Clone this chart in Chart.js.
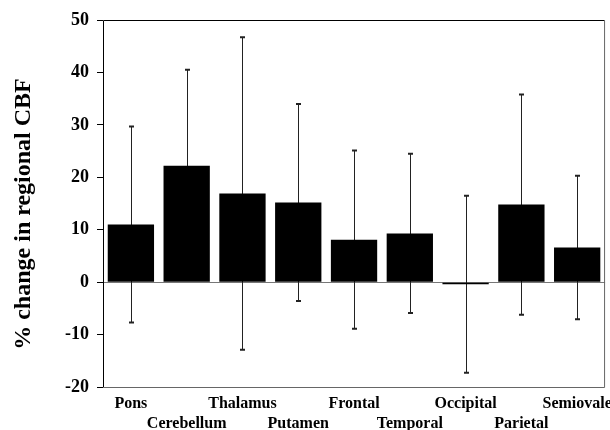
<!DOCTYPE html>
<html>
<head>
<meta charset="utf-8">
<script src="https://cdn.jsdelivr.net/npm/chart.js@4"></script>
<style>
  html, body { margin: 0; padding: 0; background: #fff; }
  #wrap { width: 610px; height: 430px; }
</style>
</head>
<body>
<div id="wrap"><canvas id="myBarChart"></canvas></div>
<script>
// regions, mean % change and SD
const regions = ['Pons', 'Cerebellum', 'Thalamus', 'Putamen', 'Frontal', 'Temporal', 'Occipital', 'Parietal', 'Semiovale'];
const means = [11.0, 22.2, 16.9, 15.2, 8.1, 9.3, -0.4, 14.8, 6.6];
const sds = [18.7, 18.3, 29.8, 18.8, 17.0, 15.2, 16.9, 21.0, 13.7];
const yTicks = [-20, -10, 0, 10, 20, 30, 40, 50];

const serif = "'Liberation Serif', 'Times New Roman', serif";

// whiskers go under the bars, box + title on top
const errorBars = {
  id: 'errorBars',
  beforeDatasetsDraw(chart) {
    const ctx = chart.ctx;
    const y = chart.scales.y;
    const meta = chart.getDatasetMeta(0);
    ctx.save();
    ctx.strokeStyle = '#222';
    meta.data.forEach((bar, i) => {
      const x = Math.round(bar.x) + 0.5;
      const hi = y.getPixelForValue(means[i] + sds[i]);
      const lo = y.getPixelForValue(means[i] - sds[i]);
      ctx.lineWidth = 1;
      ctx.beginPath();
      ctx.moveTo(x, hi);
      ctx.lineTo(x, lo);
      ctx.stroke();
      ctx.lineWidth = 2;
      ctx.beginPath();
      ctx.moveTo(x - 2.5, hi); ctx.lineTo(x + 2.5, hi);
      ctx.moveTo(x - 2.5, lo); ctx.lineTo(x + 2.5, lo);
      ctx.stroke();
    });
    ctx.restore();
  },
  afterDatasetsDraw(chart) {
    const ctx = chart.ctx;
    const a = chart.chartArea;
    ctx.save();
    ctx.lineWidth = 1;
    ctx.strokeStyle = '#000';
    ctx.beginPath();
    ctx.moveTo(a.left + 0.5, a.bottom + 0.5);
    ctx.lineTo(a.left + 0.5, a.top + 0.5);
    ctx.lineTo(a.right - 0.5, a.top + 0.5);
    ctx.stroke();
    ctx.strokeStyle = '#666';
    ctx.beginPath();
    ctx.moveTo(a.right - 0.5, a.top + 0.5);
    ctx.lineTo(a.right - 0.5, a.bottom + 0.5);
    ctx.lineTo(a.left + 0.5, a.bottom + 0.5);
    ctx.stroke();
    // axis title
    ctx.translate(24, 214);
    ctx.rotate(-Math.PI / 2);
    ctx.fillStyle = '#000';
    ctx.font = 'bold 24px ' + serif;
    ctx.textAlign = 'center';
    ctx.textBaseline = 'middle';
    ctx.fillText('% change in regional CBF', 0, 0);
    ctx.restore();
  }
};

var ctx = document.getElementById('myBarChart');

var myBarChart = new Chart(ctx, {
  type: 'bar',
  data: {
    labels: regions,
    datasets: [{
      data: means,
      backgroundColor: '#000',
      borderWidth: 0,
      categoryPercentage: 1,
      barPercentage: 0.83
    }]
  },
  options: {
    responsive: true,
    maintainAspectRatio: false,
    animation: false,
    layout: { padding: { top: 20, right: 3, left: 0, bottom: 0 } },
    plugins: {
      legend: { display: false },
      tooltip: { enabled: false }
    },
    scales: {
      x: {
        grid: { display: false },
        border: { display: false },
        afterFit(scale) { scale.height = 43; },
        ticks: {
          color: '#000',
          padding: -2,
          maxRotation: 0,
          autoSkip: false,
          font: { family: serif, size: 16, weight: 'bold', lineHeight: 1.3 },
          // staggered labels: even on the first row, odd on the second
          callback: function (v, i) {
            return i % 2 === 0 ? [regions[i], ''] : ['', regions[i]];
          }
        }
      },
      y: {
        min: -20,
        max: 50,
        afterFit(scale) { scale.width = 103; },
        afterBuildTicks(scale) { scale.ticks = yTicks.map(v => ({ value: v })); },
        border: { display: false },
        grid: {
          color: c => (c.tick && c.tick.value === 0 ? '#777' : 'rgba(0,0,0,0)'),
          tickColor: '#000',
          tickLength: 6,
          drawOnChartArea: true
        },
        ticks: {
          color: '#000',
          padding: 8,
          font: { family: serif, size: 18, weight: 'bold' }
        }
      }
    }
  },
  plugins: [errorBars]
});
</script>
</body>
</html>
